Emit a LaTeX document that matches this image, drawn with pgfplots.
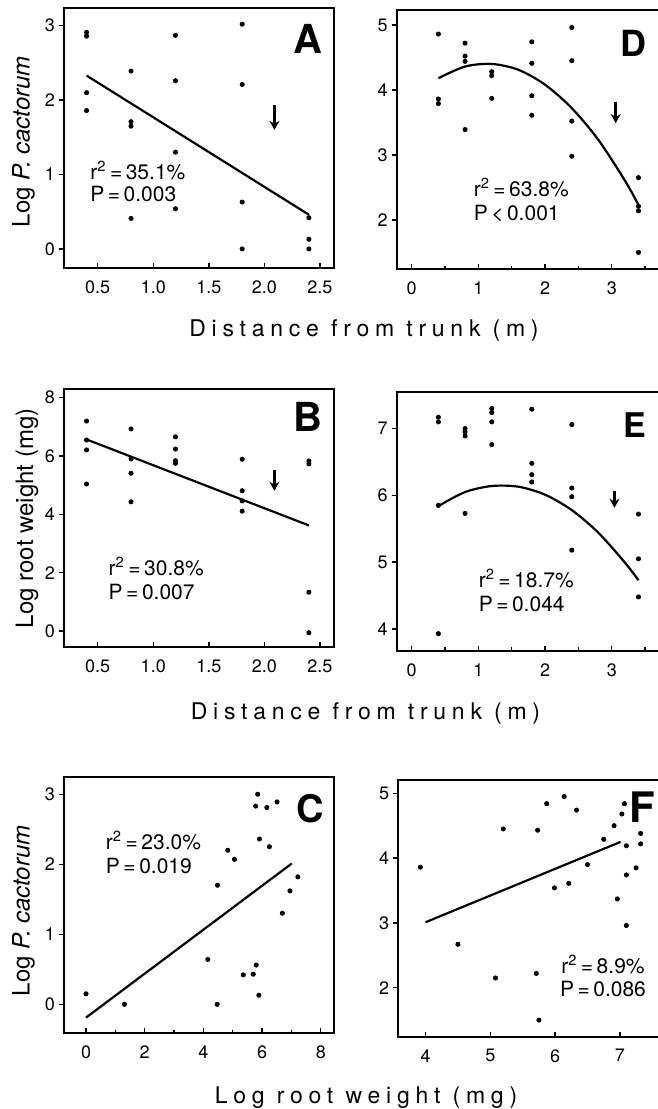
\documentclass[border=0pt]{standalone}
\usepackage{fontspec}
\setmainfont{TeX Gyre Heros}
\newfontfamily\spaced[LetterSpace=25]{TeX Gyre Heros}
\usepackage{pgfplots}
\pgfplotsset{compat=1.18}
\usetikzlibrary{arrows.meta}

\pgfplotsset{
  panel/.style={
    scale only axis, anchor=south west,
    axis line style={line width=0.9pt},
    tick pos=left, tick align=inside,
    major tick length=2.5pt, minor tick length=1.8pt,
    tick style={black, line width=0.7pt},
    ytick style={xshift=-2.5pt},
    tick label style={font=\fontsize{9}{10}\selectfont},
    /pgf/number format/assume math mode=true,
    xticklabel style={yshift=-2.8pt},
    yticklabel style={xshift=-1pt},
    ylabel style={font=\fontsize{12}{14}\selectfont},
    clip=false,
  },
  pts/.style={only marks, mark=*, mark size=1.05pt, black},
  fit/.style={black, line width=1.1pt, no marks},
}
\newcommand{\stat}{\fontsize{10.5}{12}\selectfont}
\tikzset{arr/.style={line width=1.3pt, -{Stealth[length=4.5pt, width=5pt]}}}

\begin{document}
\begin{tikzpicture}
\useasboundingbox (0,0) rectangle (329pt,554.5pt);

% ---------------- A ----------------
\begin{axis}[panel, at={(32pt,420.5pt)}, width=135pt, height=130pt,
  xmin=0.197, xmax=2.626, ymin=-0.256, ymax=3.238,
  xtick={0.5,1,1.5,2,2.5}, xticklabels={0.5,1.0,1.5,2.0,2.5},
  ytick={0,1,2,3},
  ylabel={Log \textit{P. cactorum}},
  ylabel style={at={(axis description cs:-0.15,0.486)}, anchor=center}]
\addplot[pts] coordinates {
(0.4,2.91) (0.4,2.86) (0.4,2.10) (0.4,1.86)
(0.8,2.39) (0.8,1.71) (0.8,1.65) (0.8,0.41)
(1.2,2.87) (1.2,2.26) (1.2,1.30) (1.2,0.54)
(1.8,3.02) (1.8,2.21) (1.8,0.63) (1.8,0.00)
(2.4,0.42) (2.4,0.13) (2.4,0.00)};
\addplot[fit] coordinates {(0.4,2.33) (2.4,0.46)};
\draw[arr] (axis cs:2.09,1.93) -- (axis cs:2.09,1.60);
\node[anchor=base west, font=\stat] at (axis cs:0.371,0.933) {r\textsuperscript{2}\,=\,35.1\%};
\node[anchor=base west, font=\stat] at (axis cs:0.371,0.641) {P\,=\,0.003};
\node[font=\fontsize{20}{20}\selectfont\bfseries] at (axis cs:2.395,2.82) {A};
\end{axis}

% ---------------- D ----------------
\begin{axis}[panel, at={(198.35pt,419.85pt)}, width=131.15pt, height=129.65pt,
  xmin=-0.225, xmax=3.708, ymin=1.24, ymax=5.23,
  xtick={0,1,2,3}, minor xtick={0.5,1.5,2.5,3.5},
  ytick={2,3,4,5}]
\addplot[pts] coordinates {
(0.4,4.86) (0.4,3.86) (0.4,3.79)
(0.8,4.72) (0.8,4.52) (0.8,4.44) (0.8,3.39)
(1.2,4.28) (1.2,4.22) (1.2,3.87)
(1.8,4.74) (1.8,4.41) (1.8,3.91) (1.8,3.61)
(2.4,4.96) (2.4,4.45) (2.4,3.52) (2.4,2.98)
(3.4,2.65) (3.4,2.21) (3.4,2.14) (3.4,1.50)};
\addplot[fit, smooth] coordinates {(0.4,4.18) (0.8,4.36) (1.2,4.40) (1.6,4.31) (2.0,4.08) (2.4,3.72) (2.8,3.23) (3.2,2.60) (3.4,2.23)};
\draw[arr] (axis cs:3.06,3.82) -- (axis cs:3.06,3.49);
\node[anchor=base west, font=\stat] at (axis cs:0.825,2.36) {r\textsuperscript{2}\,=\,63.8\%};
\node[anchor=base west, font=\stat] at (axis cs:0.825,1.99) {P\,<\,0.001};
\node[font=\fontsize{18}{18}\selectfont\bfseries] at (axis cs:3.325,4.71) {D};
\end{axis}

% ---------------- B ----------------
\begin{axis}[panel, at={(32pt,230.85pt)}, width=135pt, height=129pt,
  xmin=0.197, xmax=2.626, ymin=-0.56, ymax=8.29,
  xtick={0.5,1,1.5,2,2.5}, xticklabels={0.5,1.0,1.5,2.0,2.5},
  ytick={0,2,4,6,8},
  ylabel={Log root weight (mg)},
  ylabel style={at={(axis description cs:-0.137,0.5)}, anchor=center}]
\addplot[pts] coordinates {
(0.4,7.20) (0.4,6.55) (0.4,6.21) (0.4,5.04)
(0.8,6.93) (0.8,5.90) (0.8,5.41) (0.8,4.43)
(1.2,6.66) (1.2,6.24) (1.2,5.84) (1.2,5.75)
(1.8,5.89) (1.8,4.81) (1.8,4.46) (1.8,4.11)
(2.4,5.83) (2.4,5.73) (2.4,1.33) (2.4,-0.06)};
\addplot[fit] coordinates {(0.4,6.57) (2.4,3.62)};
\draw[arr] (axis cs:2.09,5.52) -- (axis cs:2.09,4.81);
\node[anchor=base west, font=\stat] at (axis cs:0.536,1.90) {r\textsuperscript{2}\,=\,30.8\%};
\node[anchor=base west, font=\stat] at (axis cs:0.536,1.09) {P\,=\,0.007};
\node[font=\fontsize{20}{20}\selectfont\bfseries] at (axis cs:2.395,7.33) {B};
\end{axis}

% ---------------- E ----------------
\begin{axis}[panel, at={(198.35pt,229.15pt)}, width=131.15pt, height=129.5pt,
  xmin=-0.225, xmax=3.708, ymin=3.675, ymax=7.552,
  xtick={0,1,2,3}, minor xtick={0.5,1.5,2.5,3.5},
  ytick={4,5,6,7}]
\addplot[pts] coordinates {
(0.4,7.17) (0.4,7.10) (0.4,5.85) (0.4,3.93)
(0.8,7.00) (0.8,6.95) (0.8,6.89) (0.8,5.73)
(1.2,7.30) (1.2,7.24) (1.2,7.10) (1.2,6.76)
(1.8,7.29) (1.8,6.48) (1.8,6.31) (1.8,6.20)
(2.4,7.06) (2.4,6.11) (2.4,5.98) (2.4,5.18)
(3.4,5.72) (3.4,5.05) (3.4,4.48)};
\addplot[fit, smooth] coordinates {(0.4,5.84) (0.8,6.05) (1.2,6.14) (1.6,6.13) (2.0,6.01) (2.4,5.78) (2.8,5.44) (3.2,4.99) (3.4,4.73)};
\draw[arr] (axis cs:3.04,6.07) -- (axis cs:3.04,5.815);
\node[anchor=base west, font=\stat] at (axis cs:0.9,4.625) {r\textsuperscript{2}\,=\,18.7\%};
\node[anchor=base west, font=\stat] at (axis cs:0.9,4.265) {P\,=\,0.044};
\node[font=\fontsize{17}{17}\selectfont\bfseries] at (axis cs:3.35,7.05) {E};
\end{axis}

% ---------------- C ----------------
\begin{axis}[panel, at={(32pt,37.85pt)}, width=135pt, height=128.3pt,
  xmin=-0.75, xmax=8.45, ymin=-0.414, ymax=3.25,
  xtick={0,2,4,6,8}, minor xtick={1,3,5,7},
  ytick={0,1,2,3},
  ylabel={Log \textit{P. cactorum}},
  ylabel style={at={(axis description cs:-0.15,0.477)}, anchor=center}]
\addplot[pts] coordinates {
(0,0.15) (1.31,0) (4.15,0.64) (4.47,0) (4.48,1.70) (4.83,2.20) (5.06,2.07)
(5.36,0.42) (5.70,0.43) (5.80,0.56) (5.89,0.13) (5.78,2.83) (5.85,3.00)
(5.91,2.36) (6.16,2.81) (6.25,2.25) (6.51,2.89) (6.69,1.30) (6.95,1.62) (7.22,1.82)};
\addplot[fit] coordinates {(0,-0.19) (7.01,2.01)};
\node[anchor=base west, font=\stat] at (axis cs:0.44,2.205) {r\textsuperscript{2}\,=\,23.0\%};
\node[anchor=base west, font=\stat] at (axis cs:0.44,1.87) {P\,=\,0.019};
\node[font=\fontsize{19}{19}\selectfont\bfseries] at (axis cs:7.64,2.80) {C};
\end{axis}

% ---------------- F ----------------
\begin{axis}[panel, at={(199.15pt,36.15pt)}, width=130.35pt, height=128.35pt,
  xmin=3.58, xmax=7.603, ymin=1.244, ymax=5.205,
  xtick={4,5,6,7},
  ytick={2,3,4,5}]
\addplot[pts] coordinates {
(3.92,3.86) (4.50,2.67) (5.08,2.15) (5.20,4.45) (5.71,2.22) (5.73,4.43)
(5.75,1.50) (5.87,4.84) (5.99,3.54) (6.14,4.95) (6.21,3.61) (6.33,4.74)
(6.50,3.90) (6.75,4.29) (6.91,4.50) (6.96,3.37) (7.03,4.68) (7.07,4.84)
(7.10,4.19) (7.10,3.74) (7.10,2.96) (7.25,3.85) (7.32,4.38) (7.32,4.22)};
\addplot[fit] coordinates {(4.0,3.01) (7.01,4.25)};
\node[anchor=base east, font=\stat] at (axis cs:7.49,2.22) {r\textsuperscript{2}\,=\,8.9\%};
\node[anchor=base east, font=\stat] at (axis cs:7.51,1.86) {P\,=\,0.086};
\node[font=\fontsize{21}{21}\selectfont\bfseries] at (axis cs:7.34,4.79) {F};
\end{axis}

% ---------------- x labels ----------------
\node[anchor=base, font=\spaced\fontsize{11.5}{12}\selectfont] at (182pt,386pt) {Distance from trunk (m)};
\node[anchor=base, font=\spaced\fontsize{11.5}{12}\selectfont] at (182.75pt,194.5pt) {Distance from trunk (m)};
\node[anchor=base, font=\spaced\fontsize{11.5}{12}\selectfont] at (183pt,2.5pt) {Log root weight (mg)};
\end{tikzpicture}
\end{document}
